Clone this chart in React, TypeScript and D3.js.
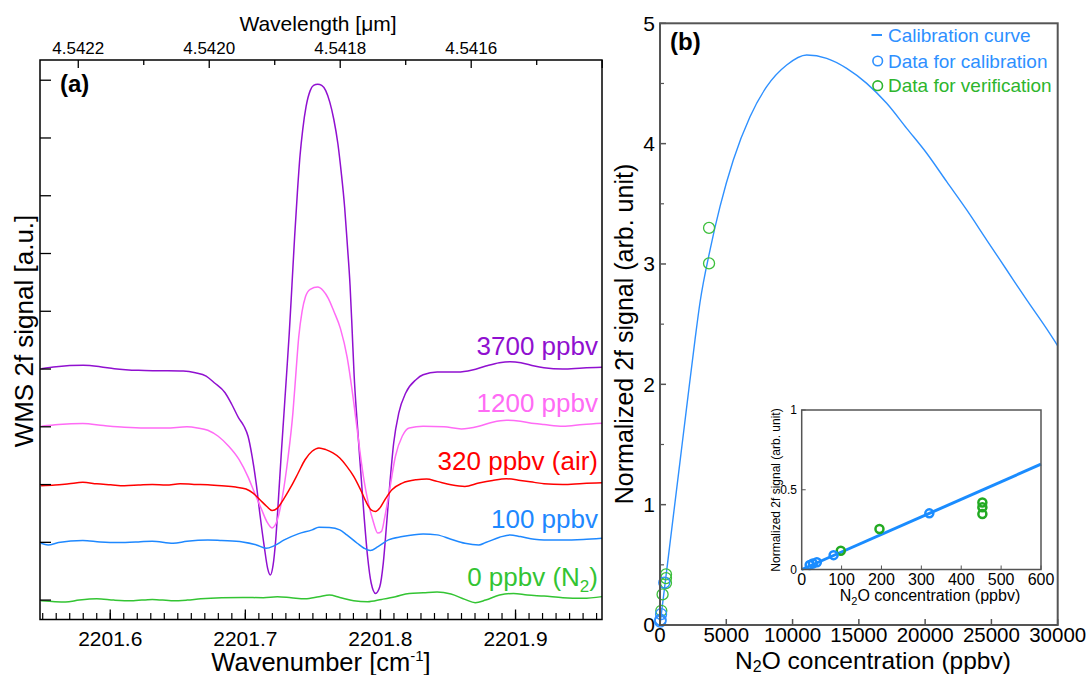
import React from 'react';
import * as d3 from 'd3';

const FONT = '"Liberation Sans", Arial, Helvetica, sans-serif';

// ---------- Panel (a) data: [wavenumber (cm-1), WMS 2f signal (a.u., offset)] ----------
const spectrum3700: [number, number][] = [
  [2201.549, 4.006], [2201.560, 4.041], [2201.580, 4.064], [2201.5925, 4.041], [2201.603, 4.006],
  [2201.621, 3.977], [2201.636, 3.971], [2201.654, 3.965], [2201.663, 3.936], [2201.671, 3.878],
  [2201.677, 3.763], [2201.685, 3.589], [2201.690, 3.386], [2201.695, 3.155], [2201.699, 3.010],
  [2201.702, 2.836], [2201.705, 2.489], [2201.708, 2.026], [2201.711, 1.447], [2201.714, 0.926],
  [2201.7165, 0.550], [2201.7185, 0.434], [2201.7205, 0.60], [2201.7225, 1.05], [2201.7245, 1.75],
  [2201.7265, 2.50], [2201.7285, 3.20], [2201.7305, 3.90], [2201.7325, 4.62], [2201.7345, 5.45],
  [2201.7365, 6.30], [2201.7385, 7.05], [2201.7405, 7.70], [2201.7425, 8.15], [2201.745, 8.55],
  [2201.748, 8.82], [2201.7505, 8.91], [2201.7536, 8.93], [2201.7565, 8.91], [2201.7595, 8.82],
  [2201.7625, 8.62], [2201.7655, 8.32], [2201.7685, 7.90], [2201.771, 7.40], [2201.7735, 6.80],
  [2201.7755, 6.15], [2201.7775, 5.45], [2201.779, 4.70], [2201.7805, 3.90], [2201.7828, 3.07],
  [2201.7853, 2.26], [2201.7879, 1.45], [2201.7905, 0.75], [2201.7931, 0.30], [2201.7964, 0.116],
  [2201.7995, 0.23], [2201.8021, 0.64], [2201.8046, 1.33], [2201.8072, 2.08], [2201.8098, 2.72],
  [2201.8136, 3.24], [2201.8188, 3.59], [2201.8265, 3.82], [2201.8316, 3.90], [2201.842, 3.948],
  [2201.857, 3.948], [2201.868, 3.983], [2201.878, 4.052], [2201.888, 4.110], [2201.896, 4.127],
  [2201.904, 4.110], [2201.914, 4.052], [2201.921, 4.023], [2201.935, 4.00], [2201.950, 4.02],
  [2201.964, 4.03],
];

const spectrum1200: [number, number][] = [
  [2201.549, 3.010], [2201.5617, 3.039], [2201.5797, 3.056], [2201.5951, 3.022], [2201.6105, 2.993],
  [2201.626, 2.981], [2201.6414, 2.981], [2201.6568, 2.999], [2201.6645, 2.981], [2201.6722, 2.941],
  [2201.6799, 2.836], [2201.6877, 2.663], [2201.6954, 2.431], [2201.7018, 2.142], [2201.7069, 1.852],
  [2201.7121, 1.563], [2201.7159, 1.36], [2201.7198, 1.25], [2201.7237, 1.39], [2201.7275, 1.80],
  [2201.7314, 2.43], [2201.7352, 3.24], [2201.7375, 3.95], [2201.7395, 4.55], [2201.742, 5.00],
  [2201.7445, 5.25], [2201.748, 5.38], [2201.7536, 5.42], [2201.7575, 5.36], [2201.7615, 5.22],
  [2201.7655, 5.00], [2201.7704, 4.70], [2201.7753, 4.21], [2201.7803, 3.41], [2201.7828, 2.95],
  [2201.7852, 2.50], [2201.788, 2.05], [2201.7905, 1.74], [2201.7943, 1.39], [2201.798, 1.16],
  [2201.8008, 1.19], [2201.8033, 1.45], [2201.8072, 1.97], [2201.8111, 2.49], [2201.8162, 2.84],
  [2201.8213, 2.98], [2201.8316, 3.01], [2201.847, 3.00], [2201.8599, 2.964], [2201.8728, 3.01],
  [2201.883, 3.08], [2201.8933, 3.114], [2201.9036, 3.097], [2201.9139, 3.056], [2201.9211, 3.039],
  [2201.935, 3.01], [2201.95, 3.04], [2201.964, 3.06],
];

const spectrum320: [number, number][] = [
  [2201.5488, 1.980], [2201.5591, 1.991], [2201.5694, 2.014], [2201.5797, 2.038], [2201.59, 2.014],
  [2201.6003, 1.997], [2201.6105, 1.980], [2201.6208, 1.991], [2201.6311, 2.003], [2201.6414, 1.991],
  [2201.6517, 2.014], [2201.662, 2.003], [2201.6722, 1.997], [2201.6825, 1.980], [2201.6928, 1.957],
  [2201.7005, 1.922], [2201.7057, 1.852], [2201.7108, 1.737], [2201.7159, 1.621], [2201.7198, 1.551],
  [2201.7237, 1.592], [2201.7288, 1.766], [2201.7339, 1.968], [2201.7391, 2.20], [2201.7442, 2.43],
  [2201.7494, 2.576], [2201.7545, 2.634], [2201.7596, 2.605], [2201.7648, 2.547], [2201.7699, 2.46],
  [2201.7751, 2.315], [2201.7802, 2.142], [2201.7853, 1.91], [2201.7892, 1.708], [2201.7931, 1.563],
  [2201.7964, 1.534], [2201.7995, 1.592], [2201.8033, 1.737], [2201.8085, 1.91], [2201.8162, 2.026],
  [2201.8265, 2.084], [2201.8342, 2.096], [2201.8419, 2.055], [2201.8522, 1.997], [2201.8625, 1.968],
  [2201.8728, 2.026], [2201.883, 2.072], [2201.8933, 2.101], [2201.9036, 2.072], [2201.9139, 2.038],
  [2201.9211, 2.014], [2201.935, 2.0], [2201.95, 2.02], [2201.964, 2.03],
];

const spectrum100: [number, number][] = [
  [2201.5488, 0.984], [2201.554, 0.955], [2201.5617, 0.996], [2201.5797, 1.030], [2201.5925, 1.007],
  [2201.6054, 0.996], [2201.6208, 1.007], [2201.6311, 1.019], [2201.6465, 0.984], [2201.6568, 1.019],
  [2201.6722, 1.042], [2201.6825, 1.030], [2201.6979, 1.007], [2201.7082, 0.955], [2201.7154, 0.897],
  [2201.7211, 0.938], [2201.7288, 1.042], [2201.7391, 1.146], [2201.7494, 1.216], [2201.7545, 1.262],
  [2201.7622, 1.256], [2201.7699, 1.216], [2201.7751, 1.129], [2201.7828, 0.984], [2201.7879, 0.897],
  [2201.7925, 0.857], [2201.7982, 0.926], [2201.8059, 1.042], [2201.8162, 1.10], [2201.8316, 1.146],
  [2201.8419, 1.129], [2201.8522, 1.054], [2201.8625, 0.984], [2201.8728, 0.955], [2201.8779, 0.996],
  [2201.8882, 1.088], [2201.8959, 1.129], [2201.9036, 1.10], [2201.9139, 1.054], [2201.9211, 1.042],
  [2201.935, 1.04], [2201.95, 1.05], [2201.964, 1.07],
];

const spectrum0: [number, number][] = [
  [2201.5488, -0.012], [2201.5591, -0.029], [2201.5668, -0.035], [2201.5771, 0.0], [2201.59, 0.023],
  [2201.6028, 0.0], [2201.6157, -0.012], [2201.6311, 0.012], [2201.6465, -0.012], [2201.6568, 0.0],
  [2201.6671, 0.023], [2201.6825, 0.041], [2201.6979, 0.046], [2201.7134, 0.041], [2201.7237, 0.058],
  [2201.7339, 0.041], [2201.7442, 0.023], [2201.7545, 0.058], [2201.7622, 0.087], [2201.7699, 0.046],
  [2201.7802, -0.012], [2201.7905, -0.029], [2201.8008, 0.012], [2201.8111, 0.058], [2201.8213, 0.116],
  [2201.8316, 0.127], [2201.8419, 0.139], [2201.8522, 0.104], [2201.8625, 0.012], [2201.8702, -0.046],
  [2201.8779, 0.0], [2201.8882, 0.087], [2201.8985, 0.116], [2201.9087, 0.087], [2201.9211, 0.069],
  [2201.935, 0.04], [2201.95, 0.03], [2201.964, 0.06],
];

const spectraLabels = ['3700 ppbv', '1200 ppbv', '320 ppbv (air)', '100 ppbv', '0 ppbv (N2)'];
const spectraColors = ['#9010D0', '#FF6BF5', '#FF0000', '#1E88FF', '#33C433'];
const spectraLabelLevels = [4.25, 3.25, 2.25, 1.25, 0.25];
const spectraOffsetTicks = [0, 1, 2, 3, 4, 5, 6, 7, 8, 9];
const wavelengthTicks = [4.5422, 4.5421, 4.5420, 4.5419, 4.5418, 4.5417, 4.5416, 4.5415, 4.5414];
const wavelengthLabels = ['4.5422', '', '4.5420', '', '4.5418', '', '4.5416', '', ''];

// ---------- Panel (b) data ----------
const curveConc = [0, 500, 1000, 1500, 2000, 2640, 3017, 3772, 4526, 5530, 6789, 8047, 9556, 11066,
  12574, 14083, 15592, 17101, 18610, 20119, 21628, 23137, 24646, 26155, 27664, 29173, 30000];
const curveSignal = [0, 0.45, 0.9, 1.35, 1.8, 2.37, 2.68, 3.116, 3.476, 3.864, 4.224, 4.473, 4.653, 4.736,
  4.709, 4.626, 4.501, 4.335, 4.127, 3.92, 3.684, 3.449, 3.199, 2.95, 2.701, 2.46, 2.32];
const calibConc = [20, 28, 38, 80, 320];
const calibSignal = [0.028, 0.038, 0.045, 0.09, 0.352];
const verifConc = [98, 195, 453, 453, 453, 3700, 3700];
const verifSignal = [0.118, 0.254, 0.348, 0.39, 0.42, 3.005, 3.30];
const insetLineConc = [0, 600];
const insetLineSignal = [0, 0.66];
const mainXTicks = [0, 5000, 10000, 15000, 20000, 25000, 30000];
const mainYTicks = [0, 1, 2, 3, 4, 5];
const insetXTicks = [0, 100, 200, 300, 400, 500, 600];
const insetYTicks = [0, 0.5, 1];
const insetYLabels = ['0', '0.5', '1'];

const BLUE_B = '#2E90FF';
const GREEN_B = '#2DB52D';

export default function App() {
  // panel (a) scales
  const xA = d3.scaleLinear().domain([2201.548, 2201.964]).range([40, 602]);
  const yA = d3.scaleLinear().domain([-0.336, 9.35]).range([619.5, 60]);
  const lineA = d3.line<[number, number]>().x(d => xA(d[0])).y(d => yA(d[1])).curve(d3.curveMonotoneX);
  const spectra = [spectrum3700, spectrum1200, spectrum320, spectrum100, spectrum0];
  const majorX = xA.ticks(4);
  const minorX = xA.ticks(40);

  // panel (b) scales
  const xB = d3.scaleLinear().domain([0, 30000]).range([660, 1057.7]);
  const yB = d3.scaleLinear().domain([0, 5]).range([625, 23.3]);
  const curveData: [number, number][] = curveConc.map((c, i) => [c, curveSignal[i]]);
  const lineB = d3.line<[number, number]>().x(d => xB(d[0])).y(d => yB(d[1])).curve(d3.curveMonotoneX);

  const xI = d3.scaleLinear().domain([0, 600]).range([801.7, 1041]);
  const yI = d3.scaleLinear().domain([0, 1]).range([569.5, 410]);
  const lineI = d3.line<[number, number]>().x(d => xI(d[0])).y(d => yI(d[1]));
  const insetData: [number, number][] = insetLineConc.map((c, i) => [c, insetLineSignal[i]]);

  return (
    <svg width={1089} height={675} style={{ position: 'absolute', left: 0, top: 0, background: '#fff' }}
      fontFamily={FONT}>
      <rect x={0} y={0} width={1089} height={675} fill="#fff" />

      {/* ================= Panel (a) ================= */}
      <g>
        {spectra.map((s, i) => (
          <path key={i} d={lineA(s) || ''} fill="none" stroke={spectraColors[i]} strokeWidth={1.5} />
        ))}
        <rect x={40} y={60} width={562} height={559.5} fill="none" stroke="#000" strokeWidth={1.5} />
        {spectraOffsetTicks.map(t => (
          <line key={t} x1={40} x2={51} y1={yA(t)} y2={yA(t)} stroke="#000" strokeWidth={1.3} />
        ))}
        {minorX.map((t, i) => (
          <line key={'m' + i} x1={xA(t)} x2={xA(t)} y1={619.5} y2={613} stroke="#000" strokeWidth={1.2} />
        ))}
        {majorX.map((t, i) => (
          <g key={'M' + i}>
            <line x1={xA(t)} x2={xA(t)} y1={619.5} y2={609.5} stroke="#000" strokeWidth={1.3} />
            <text x={xA(t)} y={646} textAnchor="middle" fontSize={21}>{t.toFixed(1)}</text>
          </g>
        ))}
        {wavelengthTicks.map((w, i) => (
          <g key={'w' + i}>
            <line x1={xA(1e4 / w)} x2={xA(1e4 / w)} y1={60} y2={wavelengthLabels[i] || i === 8 ? 68 : 65}
              stroke="#000" strokeWidth={1.3} />
            {wavelengthLabels[i] && (
              <text x={xA(1e4 / w)} y={54} textAnchor="middle" fontSize={17}>{wavelengthLabels[i]}</text>
            )}
          </g>
        ))}
        <text x={318} y={31} textAnchor="middle" fontSize={21}>Wavelength [μm]</text>
        <text x={321} y={671} textAnchor="middle" fontSize={25.5}>
          <tspan>Wavenumber [cm</tspan>
          <tspan dy={-10} fontSize={15}>-1</tspan>
          <tspan dy={10}>]</tspan>
        </text>
        <text transform="translate(33,331) rotate(-90)" textAnchor="middle" fontSize={26}>WMS 2f signal [a.u.]</text>
        <text x={60} y={92} fontSize={24} fontWeight="bold">(a)</text>
        {spectraLabels.map((l, i) => (
          <text key={l} x={598} y={yA(spectraLabelLevels[i])} textAnchor="end" fontSize={26} fill={spectraColors[i]}>
            {l === '0 ppbv (N2)' ? (
              <>
                <tspan>0 ppbv (N</tspan>
                <tspan dy={6} fontSize={17}>2</tspan>
                <tspan dy={-6}>)</tspan>
              </>
            ) : l}
          </text>
        ))}
      </g>

      {/* ================= Panel (b) ================= */}
      <g>
        <path d={lineB(curveData) || ''} fill="none" stroke={BLUE_B} strokeWidth={1.4} />
        {verifConc.map((c, i) => (
          <circle key={'v' + i} cx={xB(c)} cy={yB(verifSignal[i])} r={5.5} fill="none" stroke="#3CBF3C" strokeWidth={1.3} />
        ))}
        {calibConc.map((c, i) => (
          <circle key={'c' + i} cx={xB(c)} cy={yB(calibSignal[i])} r={5.5} fill="none" stroke={BLUE_B} strokeWidth={1.3} />
        ))}
        <rect x={660} y={23.3} width={397.7} height={601.7} fill="none" stroke="#555" strokeWidth={2} />
        {mainYTicks.map(t => (
          <g key={'by' + t}>
            <line x1={660} x2={666} y1={yB(t)} y2={yB(t)} stroke="#555" strokeWidth={1.5} />
            {t < 5 && <line x1={660} x2={664} y1={yB(t + 0.5)} y2={yB(t + 0.5)} stroke="#555" strokeWidth={1.2} />}
            <text x={655} y={yB(t)} dy="0.35em" textAnchor="end" fontSize={21}>{t}</text>
          </g>
        ))}
        {mainXTicks.map(t => (
          <g key={'bx' + t}>
            <line x1={xB(t)} x2={xB(t)} y1={625} y2={619} stroke="#555" strokeWidth={1.5} />
            <text x={xB(t)} y={642} textAnchor="middle" fontSize={20.5}>{t}</text>
          </g>
        ))}
        <text x={873} y={669} textAnchor="middle" fontSize={24.5}>
          <tspan>N</tspan>
          <tspan dy={3} fontSize={16}>2</tspan>
          <tspan dy={-3}>O concentration (ppbv)</tspan>
        </text>
        <text transform="translate(633,334) rotate(-90)" textAnchor="middle" fontSize={25}>Normalized 2f signal (arb. unit)</text>
        <text x={670} y={50} fontSize={24} fontWeight="bold">(b)</text>

        {/* legend */}
        <line x1={871.5} x2={882} y1={35} y2={35} stroke={BLUE_B} strokeWidth={2} />
        <text x={888} y={41.5} fontSize={19} fill={BLUE_B}>Calibration curve</text>
        <circle cx={877.7} cy={61} r={4.8} fill="none" stroke={BLUE_B} strokeWidth={1.6} />
        <text x={888} y={67.5} fontSize={19} fill={BLUE_B}>Data for calibration</text>
        <circle cx={877.7} cy={85.7} r={4.8} fill="none" stroke={GREEN_B} strokeWidth={1.6} />
        <text x={888} y={92} fontSize={19} fill={GREEN_B}>Data for verification</text>

        {/* inset */}
        <rect x={801.7} y={410} width={239.3} height={159.5} fill="#fff" stroke="none" />
        <path d={lineI(insetData) || ''} fill="none" stroke="#1A8CFF" strokeWidth={3} />
        {verifConc.filter(c => c <= 600).map((c, i) => (
          <circle key={'iv' + i} cx={xI(c)} cy={yI(verifSignal[i])} r={4} fill="none" stroke="#22AA22" strokeWidth={2.5} />
        ))}
        {calibConc.map((c, i) => (
          <circle key={'ic' + i} cx={xI(c)} cy={yI(calibSignal[i])} r={4} fill="none" stroke="#1A8CFF" strokeWidth={2.5} />
        ))}
        <rect x={801.7} y={410} width={239.3} height={159.5} fill="none" stroke="#555" strokeWidth={1.5} />
        {insetXTicks.map(t => (
          <g key={'ix' + t}>
            <line x1={xI(t)} x2={xI(t)} y1={569.5} y2={565.5} stroke="#555" strokeWidth={1} />
            <text x={xI(t)} y={585} textAnchor="middle" fontSize={16}>{t}</text>
          </g>
        ))}
        {insetYTicks.map((t, i) => (
          <g key={'iy' + t}>
            <line x1={801.7} x2={805.7} y1={yI(t)} y2={yI(t)} stroke="#555" strokeWidth={1} />
            <text x={797} y={yI(t)} dy="0.35em" textAnchor="end" fontSize={12}>{insetYLabels[i]}</text>
          </g>
        ))}
        <text x={930} y={601} textAnchor="middle" fontSize={16}>
          <tspan>N</tspan>
          <tspan dy={4} fontSize={11}>2</tspan>
          <tspan dy={-4}>O concentration (ppbv)</tspan>
        </text>
        <text transform="translate(780,490) rotate(-90)" textAnchor="middle" fontSize={12}>Normalized 2f signal (arb. unit)</text>
      </g>
    </svg>
  );
}
